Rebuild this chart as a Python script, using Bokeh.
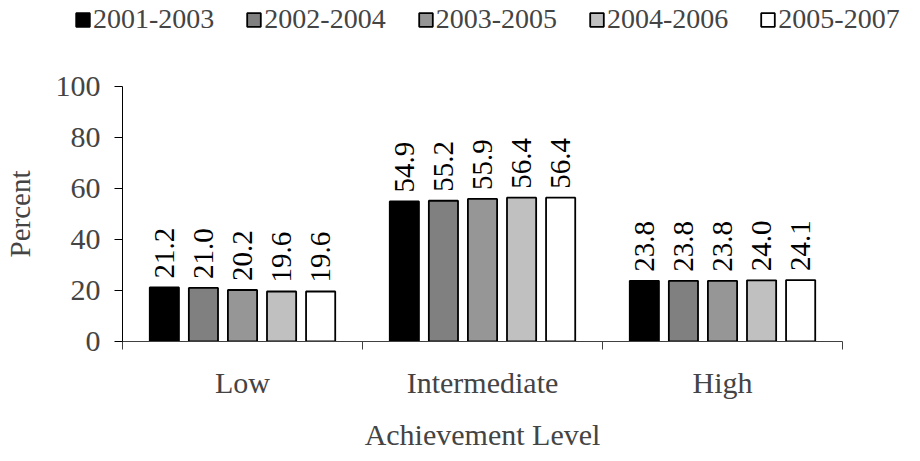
import math
from bokeh.plotting import figure
from bokeh.layouts import column
from bokeh.models import ColumnDataSource, Range1d, FixedTicker, Legend, LegendItem
from bokeh.transform import dodge
from bokeh.core.properties import value
from bokeh.embed import file_html
from bokeh.resources import INLINE

categories = ["Low", "Intermediate", "High"]
periods = ["2001-2003", "2002-2004", "2003-2005", "2004-2006", "2005-2007"]
v_2001_2003 = [21.2, 54.9, 23.8]
v_2002_2004 = [21.0, 55.2, 23.8]
v_2003_2005 = [20.2, 55.9, 23.8]
v_2004_2006 = [19.6, 56.4, 24.0]
v_2005_2007 = [19.6, 56.4, 24.1]
series = [v_2001_2003, v_2002_2004, v_2003_2005, v_2004_2006, v_2005_2007]
colors = ["#000000", "#808080", "#969696", "#C0C0C0", "#FFFFFF"]
y_ticks = [0, 20, 40, 60, 80, 100]

FONT = "Liberation Serif"

# legend strip (its own small figure; its bars are hidden, only the legend shows)
lf = figure(width=904, height=40, output_backend="svg", toolbar_location=None,
            x_range=Range1d(0, 3), y_range=Range1d(0, 100),
            x_axis_type=None, y_axis_type=None,
            min_border_left=0, min_border_right=0,
            min_border_top=0, min_border_bottom=0)
lf.outline_line_color = None
lf.xgrid.visible = False
lf.ygrid.visible = False
lf.frame_align = False

p = figure(width=904, height=413, output_backend="svg",
           toolbar_location=None,
           x_range=Range1d(0, 3), y_range=Range1d(0, 100),
           min_border_left=114, min_border_right=62,
           min_border_top=46, min_border_bottom=111)
p.outline_line_color = None
p.xgrid.visible = False
p.ygrid.visible = False
p.background_fill_color = "white"
p.border_fill_color = "white"
p.frame_align = False

centers = [i + 0.5 for i in range(len(categories))]
step = 0.1628
width = 0.1215

items = []
for j, (name, vals, col) in enumerate(zip(periods, series, colors)):
    src = ColumnDataSource(dict(xc=centers, top=vals,
                                lbl=["%.1f" % v for v in vals]))
    off = (j - 2) * step
    p.vbar(x=dodge("xc", off), top="top", width=width, bottom=0, source=src,
           fill_color=col, line_color="black", line_width=1.8)
    rl = lf.vbar(x=dodge("xc", off), top="top", width=width, bottom=0, source=src,
                 fill_color=col, line_color="black", line_width=1.8,
                 visible=False)
    items.append(LegendItem(label=name, renderers=[rl]))
    p.text(x=dodge("xc", off), y="top", text="lbl", source=src,
           angle=math.pi / 2, text_align="left", text_baseline="middle",
           y_offset=-9, text_font=value(FONT), text_font_size="29px",
           text_color="black")

# x axis
xa = p.xaxis[0]
xa.ticker = FixedTicker(ticks=centers, minor_ticks=[0, 1, 2, 3])
xa.major_label_overrides = {c: name for c, name in zip(centers, categories)}
xa.major_tick_out = 0
xa.major_tick_in = 0
xa.minor_tick_out = 8
xa.minor_tick_in = 0
xa.minor_tick_line_color = "#404040"
xa.axis_line_color = "#404040"
xa.major_label_text_font = FONT
xa.major_label_text_font_size = "30px"
xa.major_label_standoff = 16
xa.axis_label = "Achievement Level"
xa.axis_label_text_font = FONT
xa.axis_label_text_font_size = "30px"
xa.axis_label_text_font_style = "normal"
xa.axis_label_standoff = 16

# y axis
ya = p.yaxis[0]
ya.ticker = FixedTicker(ticks=y_ticks)
ya.minor_tick_line_color = None
ya.major_tick_out = 8
ya.major_tick_in = 0
ya.major_label_text_font = FONT
ya.major_label_text_font_size = "30px"
ya.major_label_standoff = 14
ya.axis_label = "Percent"
ya.axis_label_text_font = FONT
ya.axis_label_text_font_size = "29px"
ya.axis_label_text_font_style = "normal"
ya.axis_label_standoff = 17

leg = Legend(items=items, orientation="horizontal", location=(74, 5),
             padding=0, margin=0, spacing=31, glyph_width=17, glyph_height=17,
             label_standoff=2, label_text_font=FONT, label_text_font_size="28px",
             border_line_color=None, background_fill_alpha=0,
             inactive_fill_alpha=0)
lf.add_layout(leg)

layout = column(lf, p, spacing=0)
open("out.html", "w").write(file_html(layout, INLINE))
